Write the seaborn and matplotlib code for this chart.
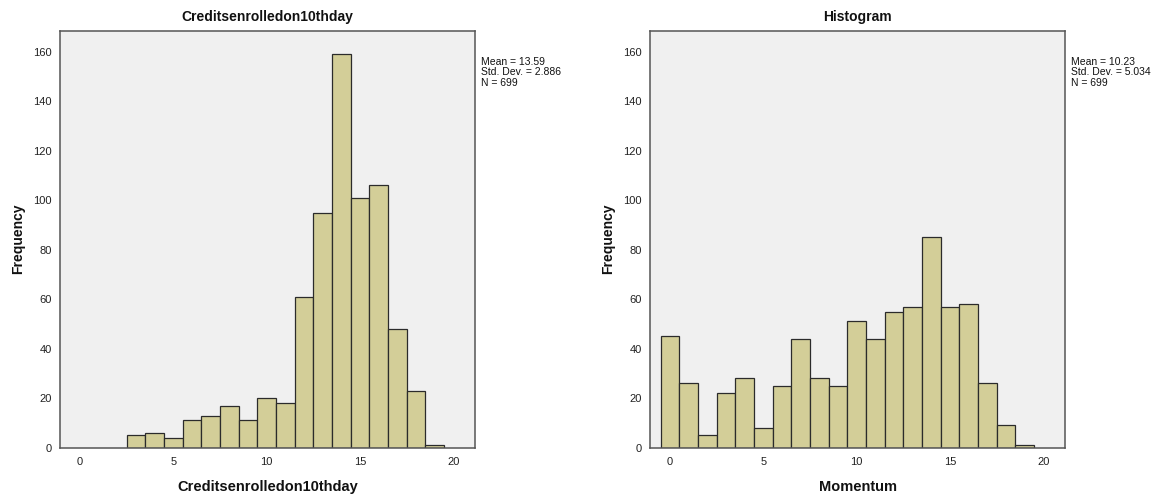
import numpy as np
import pandas as pd
import matplotlib
matplotlib.use("Agg")
import matplotlib.pyplot as plt
import seaborn as sns

# Frequency tables for the two variables (value -> count)
credits_values = [3, 4, 5, 6, 7, 8, 9, 10, 11, 12, 13, 14, 15, 16, 17, 18, 19]
credits_counts = [5, 6, 4, 11, 13, 17, 11, 20, 18, 61, 95, 159, 101, 106, 48, 23, 1]

momentum_values = [0, 1, 2, 3, 4, 5, 6, 7, 8, 9, 10, 11, 12, 13, 14, 15, 16, 17, 18, 19]
momentum_counts = [45, 26, 5, 22, 28, 8, 25, 44, 28, 25, 51, 44, 55, 57, 85, 57, 58, 26, 9, 1]

titles = ["Creditsenrolledon10thday", "Histogram"]
xlabels = ["Creditsenrolledon10thday", "Momentum"]
stats = [("13.59", "2.886", "699"), ("10.23", "5.034", "699")]

x_ticks = [0, 5, 10, 15, 20]
y_ticks = [0, 20, 40, 60, 80, 100, 120, 140, 160]

sns.set_style("white")
plt.rcParams["font.family"] = ["Liberation Sans", "DejaVu Sans"]

BAR = "#d3ce98"
EDGE = "#2b2b2b"
PANEL = "#f0f0f0"
SPINE = "#555555"

fig = plt.figure(figsize=(11.64, 4.97), dpi=100)
W, H = 1164, 497
axes_px = [(60, 30.7, 475, 447.7), (650, 30.7, 1065, 447.7)]

frames = [
    pd.DataFrame({"value": credits_values, "count": credits_counts}),
    pd.DataFrame({"value": momentum_values, "count": momentum_counts}),
]

for i, df in enumerate(frames):
    x0, y0, x1, y1 = axes_px[i]
    ax = fig.add_axes([x0 / W, 1 - y1 / H, (x1 - x0) / W, (y1 - y0) / H])
    ax.set_facecolor(PANEL)
    sns.histplot(data=df, x="value", weights="count", discrete=True,
                 color=BAR, alpha=1.0, edgecolor=EDGE, linewidth=0.9, ax=ax)
    ax.set_xlim(-1.07, 21.16)
    ax.set_ylim(0, 168.5)
    ax.set_xticks(x_ticks)
    ax.set_yticks(y_ticks)
    ax.tick_params(axis="both", direction="out", length=5, width=1.2,
                   color=SPINE, labelsize=8, labelcolor="#222222", pad=2)
    ax.tick_params(axis="y", length=4)
    for s in ax.spines.values():
        s.set_visible(True)
        s.set_color(SPINE)
        s.set_linewidth(1.1)
    ax.set_title(titles[i], fontsize=10, fontweight="bold", color="#111111", pad=7)
    ax.set_xlabel(xlabels[i], fontsize=10.5, fontweight="bold", color="#111111", labelpad=9)
    ax.set_ylabel("Frequency", fontsize=10, fontweight="bold", color="#111111", labelpad=6)
    mean, sd, n = stats[i]
    ax.text(1.015, 0.937, f"Mean = {mean}\nStd. Dev. = {sd}\nN = {n}",
            transform=ax.transAxes, ha="left", va="top", fontsize=7.5,
            color="#111111", linespacing=1.05)

fig.savefig("out.png", dpi=100)
